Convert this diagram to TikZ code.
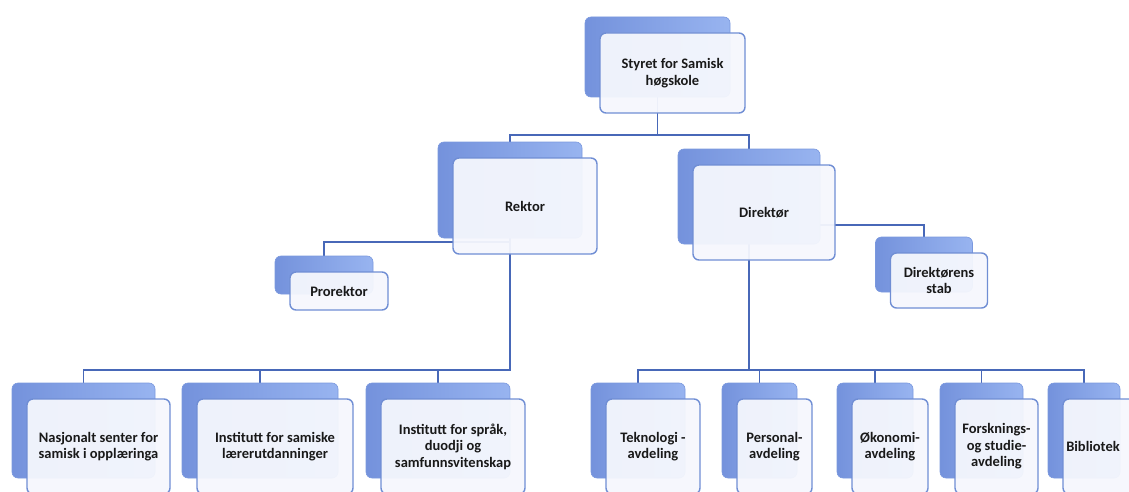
\documentclass[tikz,border=0pt]{standalone}
\usepackage{fontspec}
\setmainfont{Carlito}
\pgfdeclarelayer{bg}
\pgfsetlayers{bg,main}
\definecolor{backblue}{RGB}{122,152,222}
\definecolor{backdark}{RGB}{116,146,220}
\definecolor{backlight}{RGB}{152,180,240}
\definecolor{frontfill}{RGB}{245,247,253}
\definecolor{frontdraw}{RGB}{112,142,212}
\definecolor{connblue}{RGB}{72,104,184}
\definecolor{txt}{RGB}{25,25,25}
\tikzset{
  backbox/.style={rounded corners=6pt, left color=backdark, right color=backlight,
    draw=backblue, line width=0.6pt, inner sep=0pt},
  frontbox/.style={rounded corners=6pt, fill=frontfill, fill opacity=0.95, text opacity=1,
    draw=frontdraw, draw opacity=1, line width=1.4pt, inner sep=0pt, align=center,
    font=\bfseries\fontsize{14.5}{16.5}\selectfont, text=txt},
  conn/.style={draw=connblue, line width=1.6pt},
}
\newcommand\orgunit[6]{%
  \node[backbox, minimum width=#4pt, minimum height=#5pt] (#1-b) at (#2-15,#3-16) {};
  \node[frontbox, minimum width=#4pt, minimum height=#5pt] (#1) at (#2,#3) {#6};
}
\begin{document}
\begin{tikzpicture}[x=1pt,y=-1pt]
\useasboundingbox (0,0) rectangle (1129,492);
\clip (0,0) rectangle (1129,492);
\coordinate (ytop) at (0,135);
\coordinate (ypro) at (0,242);
\coordinate (ystab) at (0,225);
\coordinate (ybus) at (0,370);

\orgunit{styret}{672.5}{73}{145}{80}{Styret for Samisk\\høgskole}
\orgunit{rektor}{525}{206}{144}{96}{Rektor}
\orgunit{direktor}{764}{212.5}{142}{95}{Direktør}
\orgunit{prorektor}{339}{291}{98}{38}{Prorektor}
\orgunit{stab}{939}{280.5}{97}{55}{Direktørens\\stab}
\orgunit{nasj}{98.5}{446.5}{143}{95}{Nasjonalt senter for\\samisk i opplæringa}
\orgunit{samisk}{275}{446.5}{156}{95}{Institutt for samiske\\lærerutdanninger}
\orgunit{sprak}{453}{446.5}{144}{95}{Institutt for språk,\\duodji og\\samfunnsvitenskap}
\orgunit{tekn}{653}{446.5}{94}{95}{Teknologi -\\avdeling}
\orgunit{pers}{774.5}{446.5}{75}{95}{Personal-\\avdeling}
\orgunit{okon}{890}{446.5}{76}{95}{Økonomi-\\avdeling}
\orgunit{forsk}{996.5}{446.5}{83}{95}{Forsknings-\\og studie-\\avdeling}
\orgunit{bibl}{1099}{446.5}{72}{95}{\hspace*{-12pt}Bibliotek}

\begin{pgfonlayer}{bg}
  \draw[conn] (styret-b.center) -- (styret-b.center |- ytop) -| (rektor-b.north);
  \draw[conn] (styret-b.center |- ytop) -| (direktor-b.north);
  \draw[conn] (rektor-b.center |- ypro) -| (prorektor-b.north);
  \draw[conn] (direktor-b.center |- ystab) -| (stab-b.north);
  \draw[conn] (rektor-b.center) -- (rektor-b.center |- ybus) -| (nasj-b.north);
  \draw[conn] (rektor-b.center |- ybus) -| (samisk-b.north);
  \draw[conn] (rektor-b.center |- ybus) -| (sprak-b.north);
  \draw[conn] (direktor-b.center) -- (direktor-b.center |- ybus) -| (tekn-b.north);
  \draw[conn] (direktor-b.center |- ybus) -| (pers-b.north);
  \draw[conn] (direktor-b.center |- ybus) -| (okon-b.north);
  \draw[conn] (direktor-b.center |- ybus) -| (forsk-b.north);
  \draw[conn] (direktor-b.center |- ybus) -| (bibl-b.north);
\end{pgfonlayer}
\end{tikzpicture}
\end{document}
